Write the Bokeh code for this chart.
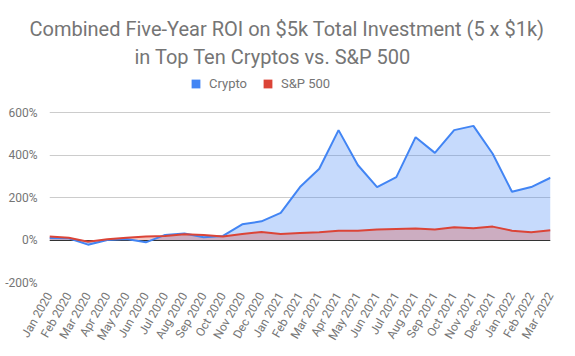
from math import pi
from bokeh.plotting import figure
from bokeh.models import (ColumnDataSource, FixedTicker, Range1d, Title, Legend, LegendItem)
from bokeh.embed import file_html
from bokeh.resources import INLINE

months = ["Jan 2020", "Feb 2020", "Mar 2020", "Apr 2020", "May 2020", "Jun 2020",
          "Jul 2020", "Aug 2020", "Sep 2020", "Oct 2020", "Nov 2020", "Dec 2020",
          "Jan 2021", "Feb 2021", "Mar 2021", "Apr 2021", "May 2021", "Jun 2021",
          "Jul 2021", "Aug 2021", "Sep 2021", "Oct 2021", "Nov 2021", "Dec 2021",
          "Jan 2022", "Feb 2022", "Mar 2022"]
crypto = [9, 8, -22, 0, 5, -11, 24, 31, 13, 19, 74, 88, 128, 249, 335, 517, 353,
          249, 296, 484, 410, 517, 537, 406, 227, 249, 293]
sp500 = [17, 11, -8, 3, 11, 16, 19, 27, 24, 17, 28, 38, 28, 33, 36, 43, 44,
         49, 52, 54, 49, 60, 55, 63, 44, 36, 46]
y_ticks = [-200, 0, 200, 400, 600]

idx = list(range(len(months)))
src = ColumnDataSource(dict(x=idx, crypto=crypto, sp=sp500, zero=[0] * len(idx)))

FONT = "Roboto"
GREY = "#757575"
BLUE = "#4285f4"
RED = "#db4437"

# plot area: 170px for the -200..600 span, plus headroom above for the legend
DATA_PX = 170
HEAD_PX = 43
y_lo, y_hi = -200, 600
y_top = y_hi + HEAD_PX * (y_hi - y_lo) / DATA_PX

p = figure(frame_width=501, frame_height=DATA_PX + HEAD_PX, output_backend="svg",
           toolbar_location=None,
           min_border_left=49, min_border_right=9, min_border_bottom=10, min_border_top=0,
           x_range=Range1d(0, len(months) - 1), y_range=Range1d(y_lo, y_top),
           title=None, outline_line_color=None)

p.varea(x="x", y1="zero", y2="crypto", source=src, fill_color=BLUE, fill_alpha=0.3)
p.varea(x="x", y1="zero", y2="sp", source=src, fill_color=RED, fill_alpha=0.3)
p.hspan(y=[0], line_color="#333333", line_width=1)
p.line(x="x", y="crypto", source=src, line_color=BLUE, line_width=2)
p.line(x="x", y="sp", source=src, line_color=RED, line_width=2)

d1 = p.varea(x=[0, 1], y1=[0, 0], y2=[0, 0], fill_color=BLUE, visible=False)
d2 = p.varea(x=[0, 1], y1=[0, 0], y2=[0, 0], fill_color=RED, visible=False)

legend = Legend(items=[LegendItem(label="Crypto", renderers=[d1]),
                       LegendItem(label="S&P 500", renderers=[d2])],
                orientation="horizontal", location=(141, 191),
                label_text_font=FONT, label_text_font_size="13px", label_text_color=GREY,
                border_line_color=None, background_fill_alpha=0,
                glyph_width=11, glyph_height=11, spacing=15, label_standoff=8,
                padding=0, margin=0, label_height=14)
p.add_layout(legend, "center")
p.add_layout(Title(text="in Top Ten Cryptos vs. S&P 500", align="left", offset=85,
                   text_font=FONT, text_font_size="20px", text_font_style="normal",
                   text_color=GREY, standoff=2), "above")
p.add_layout(Title(text="Combined Five-Year ROI on $5k Total Investment (5 x $1k)", align="left",
                   offset=-20,
                   text_font=FONT, text_font_size="20px", text_font_style="normal",
                   text_color=GREY, standoff=2), "above")
p.add_layout(Title(text=" ", text_font_size="10px", standoff=0), "above")

p.xgrid.grid_line_color = None
p.ygrid.grid_line_color = "#cccccc"
p.ygrid.grid_line_width = 1

p.yaxis.ticker = FixedTicker(ticks=y_ticks)
p.yaxis.major_label_overrides = {t: f"{t}%" for t in y_ticks}
p.xaxis.ticker = FixedTicker(ticks=idx)
p.xaxis.major_label_overrides = {i: m for i, m in zip(idx, months)}
p.xaxis.major_label_orientation = pi / 3

for ax in (p.xaxis, p.yaxis):
    ax.axis_line_color = None
    ax.major_tick_line_color = None
    ax.minor_tick_line_color = None
    ax.major_label_text_font = FONT
    ax.major_label_text_color = GREY
p.yaxis.major_label_text_font_size = "12px"
p.xaxis.major_label_text_font_size = "12px"
p.yaxis.major_label_standoff = 6
p.xaxis.major_label_standoff = 5

open("out.html", "w").write(file_html(p, INLINE))
